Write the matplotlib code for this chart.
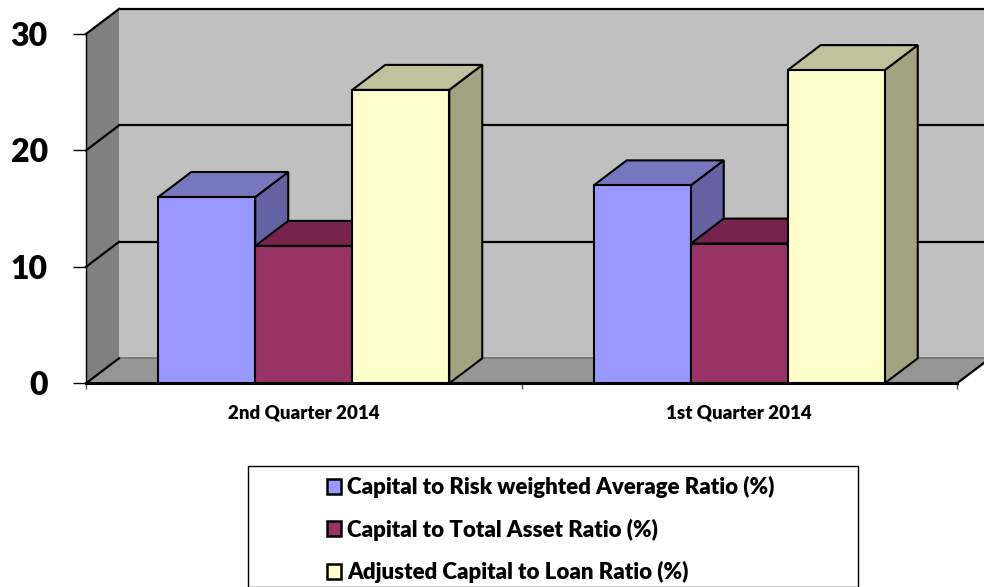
import matplotlib
matplotlib.use("Agg")
import matplotlib.pyplot as plt
from matplotlib.patches import Polygon, Rectangle, Patch

categories = ["2nd Quarter 2014", "1st Quarter 2014"]
series_names = ["Capital to Risk weighted Average Ratio (%)",
                "Capital to Total Asset Ratio (%)",
                "Adjusted Capital to Loan Ratio (%)"]
risk_weighted = [16.0, 17.0]
total_asset = [11.8, 12.0]
adjusted_loan = [25.2, 26.9]
yticks = [0, 10, 20, 30]

front_colors = ["#9999FF", "#993366", "#FFFFCC"]
top_colors = ["#7777BF", "#76244D", "#C1C19D"]
side_colors = ["#6363A3", "#5E1D3E", "#A3A381"]

plt.rcParams['font.family'] = ['Lato', 'DejaVu Sans']
WEIGHT = "heavy"

W, H = 984, 587
fig = plt.figure(figsize=(W / 100, H / 100), dpi=100)
x0, x1 = 86, 957
y0, y1 = 383.3, 34
ax = fig.add_axes([x0 / W, (H - y0) / H, (x1 - x0) / W, (y0 - y1) / H])
ncat = len(categories)
ymax = 30
ax.set_xlim(0, ncat)
ax.set_ylim(0, ymax)

px_x = (x1 - x0) / ncat
px_y = (y0 - y1) / ymax
dx = 33 / px_x
dy = 25 / px_y

for s in ax.spines.values():
    s.set_visible(False)
ax.patch.set_visible(False)

def poly(pts, fc, ec="black", lw=1.5, z=1):
    ax.add_patch(Polygon(pts, closed=True, facecolor=fc, edgecolor=ec,
                         linewidth=lw, clip_on=False, zorder=z, joinstyle="miter"))

# walls
ext = 0.2
poly([(dx, dy), (ncat + dx + ext, dy), (ncat + dx + ext, ymax + dy), (dx, ymax + dy)],
     "#C0C0C0", ec="none", z=1)
poly([(0, 0), (dx, dy), (dx, ymax + dy), (0, ymax)], "#808080", ec="none", z=1)
poly([(0, 0), (ncat, 0), (ncat + dx, dy), (dx, dy)], "#969696", ec="none", z=1)
ax.plot([dx, ncat + dx + ext], [dy, dy], color="#6E6E6E", lw=1.2, clip_on=False, zorder=2)
for v in yticks:
    ax.plot([0, dx], [v, v + dy], color="black", lw=1.6, clip_on=False, zorder=2)
    if v > 0:
        ax.plot([dx, ncat + dx + ext], [v + dy, v + dy], color="black", lw=1.6,
                clip_on=False, zorder=2)
ax.plot([0, 0], [0, ymax], color="black", lw=1.0, clip_on=False, zorder=2)
ax.plot([0, ncat], [0, 0], color="black", lw=2.2, clip_on=False, zorder=2)
ax.plot([ncat, ncat + dx], [0, dy], color="black", lw=1.6, clip_on=False, zorder=2)

# bars
series = [risk_weighted, total_asset, adjusted_loan]
bw = 97 / px_x
z = 3
for g in range(ncat):
    c = g + 0.5
    for i, vals in enumerate(series):
        v = vals[g]
        l = c - 1.5 * bw + i * bw
        r = l + bw
        poly([(r, 0), (r + dx, dy), (r + dx, v + dy), (r, v)], side_colors[i], z=z)
        poly([(l, v), (r, v), (r + dx, v + dy), (l + dx, v + dy)], top_colors[i], z=z)
        poly([(l, 0), (r, 0), (r, v), (l, v)], front_colors[i], z=z + 0.5)
        z += 1

# ticks
ax.set_yticks(yticks)
ax.set_yticklabels([str(t) for t in yticks], fontsize=23, fontweight=WEIGHT)
ax.tick_params(axis="y", length=9.5, width=1, pad=18, color="black")
ax.set_xticks(range(ncat + 1))
ax.set_xticklabels([""] * (ncat + 1))
ax.tick_params(axis="x", which="major", length=4, width=1, color="#555555")
ax.set_xticks([g + 0.5 for g in range(ncat)], minor=True)
ax.set_xticklabels(categories, minor=True, fontsize=13.5, fontweight=WEIGHT)
ax.tick_params(axis="x", which="minor", length=0, pad=15)

# legend
fig.patches.append(Rectangle((248 / W, 0), (858 - 248) / W, (H - 466) / H,
                             transform=fig.transFigure, facecolor="white",
                             edgecolor="black", linewidth=1.0))
handles = [Patch(facecolor=front_colors[i], edgecolor="black", linewidth=1.8)
           for i in range(3)]
fig.legend(handles, series_names, loc="upper left",
           bbox_to_anchor=(327 / W, (H - 476) / H), frameon=False,
           prop={"size": 16, "weight": WEIGHT}, handlelength=0.64,
           handleheight=0.64, handletextpad=0.28, labelspacing=0.92,
           borderpad=0, borderaxespad=0)

fig.savefig("out.png", dpi=100)
